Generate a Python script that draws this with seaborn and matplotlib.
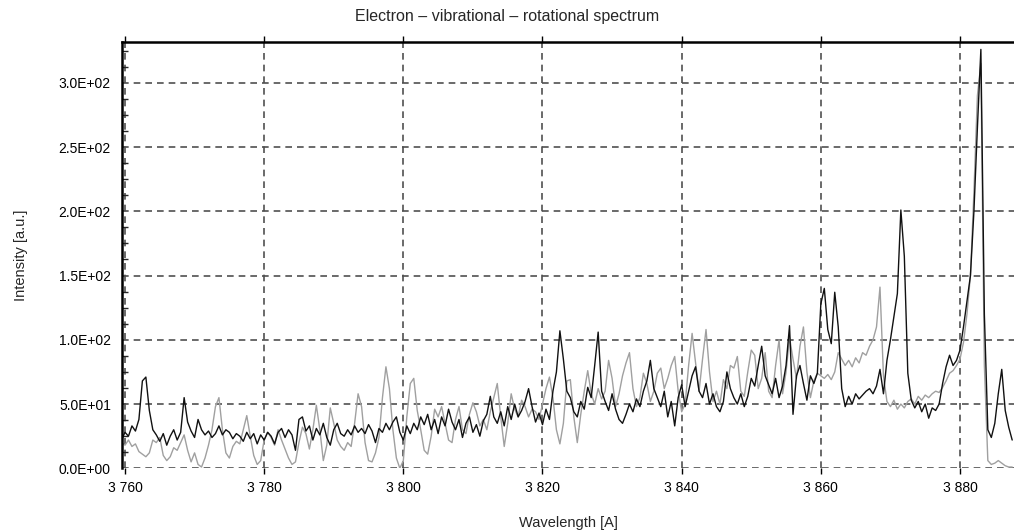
import numpy as np
import seaborn as sns
import matplotlib
matplotlib.use("Agg")
import matplotlib.pyplot as plt
from matplotlib.ticker import MultipleLocator, FuncFormatter

# sampling grid of the spectrum (Angstrom)
wl_start = 3759.5
wl_step = 0.5

# black trace
black_vals = [
    22, 28, 25, 33, 29, 38, 68, 71, 45, 30, 26, 21, 27, 18, 25, 30, 22, 28, 55, 36,
    29, 24, 38, 30, 26, 29, 24, 27, 33, 26, 30, 28, 23, 27, 25, 21, 28, 23, 27, 19,
    26, 22, 28,
    25, 19, 28, 31, 24, 30, 26, 14, 38, 40, 29, 33, 22, 31, 26, 35, 24, 18, 30, 35,
    27, 25, 30, 26, 33, 28, 31, 27, 34, 29, 20, 31, 28, 35, 30, 36, 40, 28, 22, 33,
    27, 35, 30,
    40, 34, 42, 30, 38, 27, 40, 33, 46, 36, 30, 38, 24, 35, 40, 28, 34, 25, 37, 42,
    56, 40, 35, 44, 33, 48, 38, 50, 40, 45, 52, 62, 48, 36, 43, 34, 46, 38, 60, 75,
    107, 85, 60,
    55, 44, 40, 52, 46, 63, 55, 80, 106, 60, 52, 45, 58, 46, 38, 35, 42, 50, 44, 54,
    48, 60, 68, 84, 62, 55, 48, 60, 40, 52, 33, 55, 65, 48, 60, 72, 79, 60, 55, 66,
    50, 58, 48,
    44, 52, 75, 62, 55, 50, 58, 48, 56, 70, 64, 80, 95, 72, 65, 58, 70, 55, 64, 80,
    111, 42, 72, 80, 66, 53, 72, 66, 74, 128, 140, 108, 97, 137, 110, 62, 48, 56, 50, 58,
    54, 57,
    60, 62, 58, 64, 77, 58, 84, 100, 118, 136, 201, 165, 74, 53, 47, 52, 44, 50, 39, 47,
    45, 50, 66, 79, 88, 80, 84, 92, 110, 130, 150, 200, 265, 326, 120, 30, 24, 35, 58, 77,
    45, 32, 22,
]

# gray trace
gray_vals = [
    20, 18, 22, 17, 19, 13, 11, 9, 12, 22, 20, 24, 10, 6, 9, 16, 14, 20, 26, 14,
    5, 12, 3, 1, 8, 18, 30, 48, 55, 30, 12, 8, 17, 21, 19, 30, 41, 25, 10, 3,
    6, 22, 28,
    24, 18, 30, 22, 15, 8, 3, 5, 20, 32, 27, 15, 30, 49, 30, 6, 18, 47, 35, 22,
    17, 14, 20, 17, 35, 58, 48, 20, 6, 5, 12, 24, 55, 79, 62, 30, 8, 0, 6, 40,
    66, 70, 45,
    30, 14, 11, 25, 46, 40, 48, 35, 22, 20, 38, 48, 30, 27, 42, 51, 44, 33, 38, 30,
    44, 55, 66, 40, 17, 35, 58, 46, 40, 53, 48, 40, 46, 44, 38, 50, 62, 71, 55, 30,
    19, 35, 68,
    69, 40, 20, 42, 60, 76, 58, 50, 62, 54, 60, 84, 70, 48, 58, 72, 82, 90, 62, 48,
    55, 74, 66, 52, 60, 74, 78, 62, 70, 80, 87, 60, 44, 50, 80, 105, 82, 60, 85, 108,
    75, 52, 60,
    50, 69, 62, 80, 78, 87, 60, 56, 75, 92, 88, 62, 70, 90, 60, 55, 80, 100, 58, 75,
    102, 85, 70, 95, 110, 75, 55, 68, 74, 72, 70, 73, 69, 75, 90, 85, 80, 84, 79, 86,
    82, 90,
    88, 95, 100, 110, 141, 72, 52, 48, 53, 46, 50, 47, 52, 54, 50, 56, 53, 57, 55, 58,
    60, 59, 63, 68, 74, 76, 80, 85, 98, 120, 150, 215, 290, 315, 80, 6, 3, 4, 6, 4,
    2, 1, 1,
]

wl = wl_start + wl_step * np.arange(len(black_vals))

sns.set_style("white")
plt.rcParams['font.family'] = ['Liberation Sans', 'DejaVu Sans']

fig = plt.figure(figsize=(10.14, 5.31), dpi=100)
ax = fig.add_axes([122/1014, 1 - 468.3/531, 1 - 122/1014, 426.6/531])

sns.lineplot(x=wl, y=gray_vals, color="#a0a0a0", lw=1.0, ax=ax)
sns.lineplot(x=wl, y=black_vals, color="#111111", lw=1.0, ax=ax)

ax.set_xlim(3759.57, 3887.76)
ax.set_ylim(0, 332)

ax.xaxis.set_major_locator(MultipleLocator(20))
ax.xaxis.set_major_formatter(FuncFormatter(lambda v, p: f"{int(round(v)):,}".replace(",", " ")))
ax.yaxis.set_major_locator(MultipleLocator(50))
ax.yaxis.set_minor_locator(MultipleLocator(12.5))
ax.yaxis.set_major_formatter(FuncFormatter(lambda v, p: f"{v:.1E}"))

ax.grid(True, which="major", ls=(0, (4, 3)), color="#505050", lw=1.2)

for s in ["right", "bottom"]:
    ax.spines[s].set_visible(False)
for s in ["left", "top"]:
    ax.spines[s].set_color("black")
    ax.spines[s].set_linewidth(1.8)

ax.tick_params(axis="y", which="major", direction="out", length=5, width=1, labelsize=10,
               colors="black", pad=3)
ax.tick_params(axis="y", which="minor", direction="in", length=4, width=1, left=True)
ax.tick_params(axis="x", which="major", direction="out", length=4, width=1, labelsize=10,
               top=True, bottom=True, colors="black", pad=5)

ax.set_xlabel("Wavelength [A]", fontsize=10.5, labelpad=15)
ax.set_ylabel("Intensity [a.u.]", fontsize=10.5)
ax.yaxis.set_label_coords(-0.105, 0.5)
fig.text(0.5, 1 - 17/531, "Electron \u2013 vibrational \u2013 rotational spectrum",
         ha="center", va="center", fontsize=11.5)

fig.savefig("out.png", dpi=100)
